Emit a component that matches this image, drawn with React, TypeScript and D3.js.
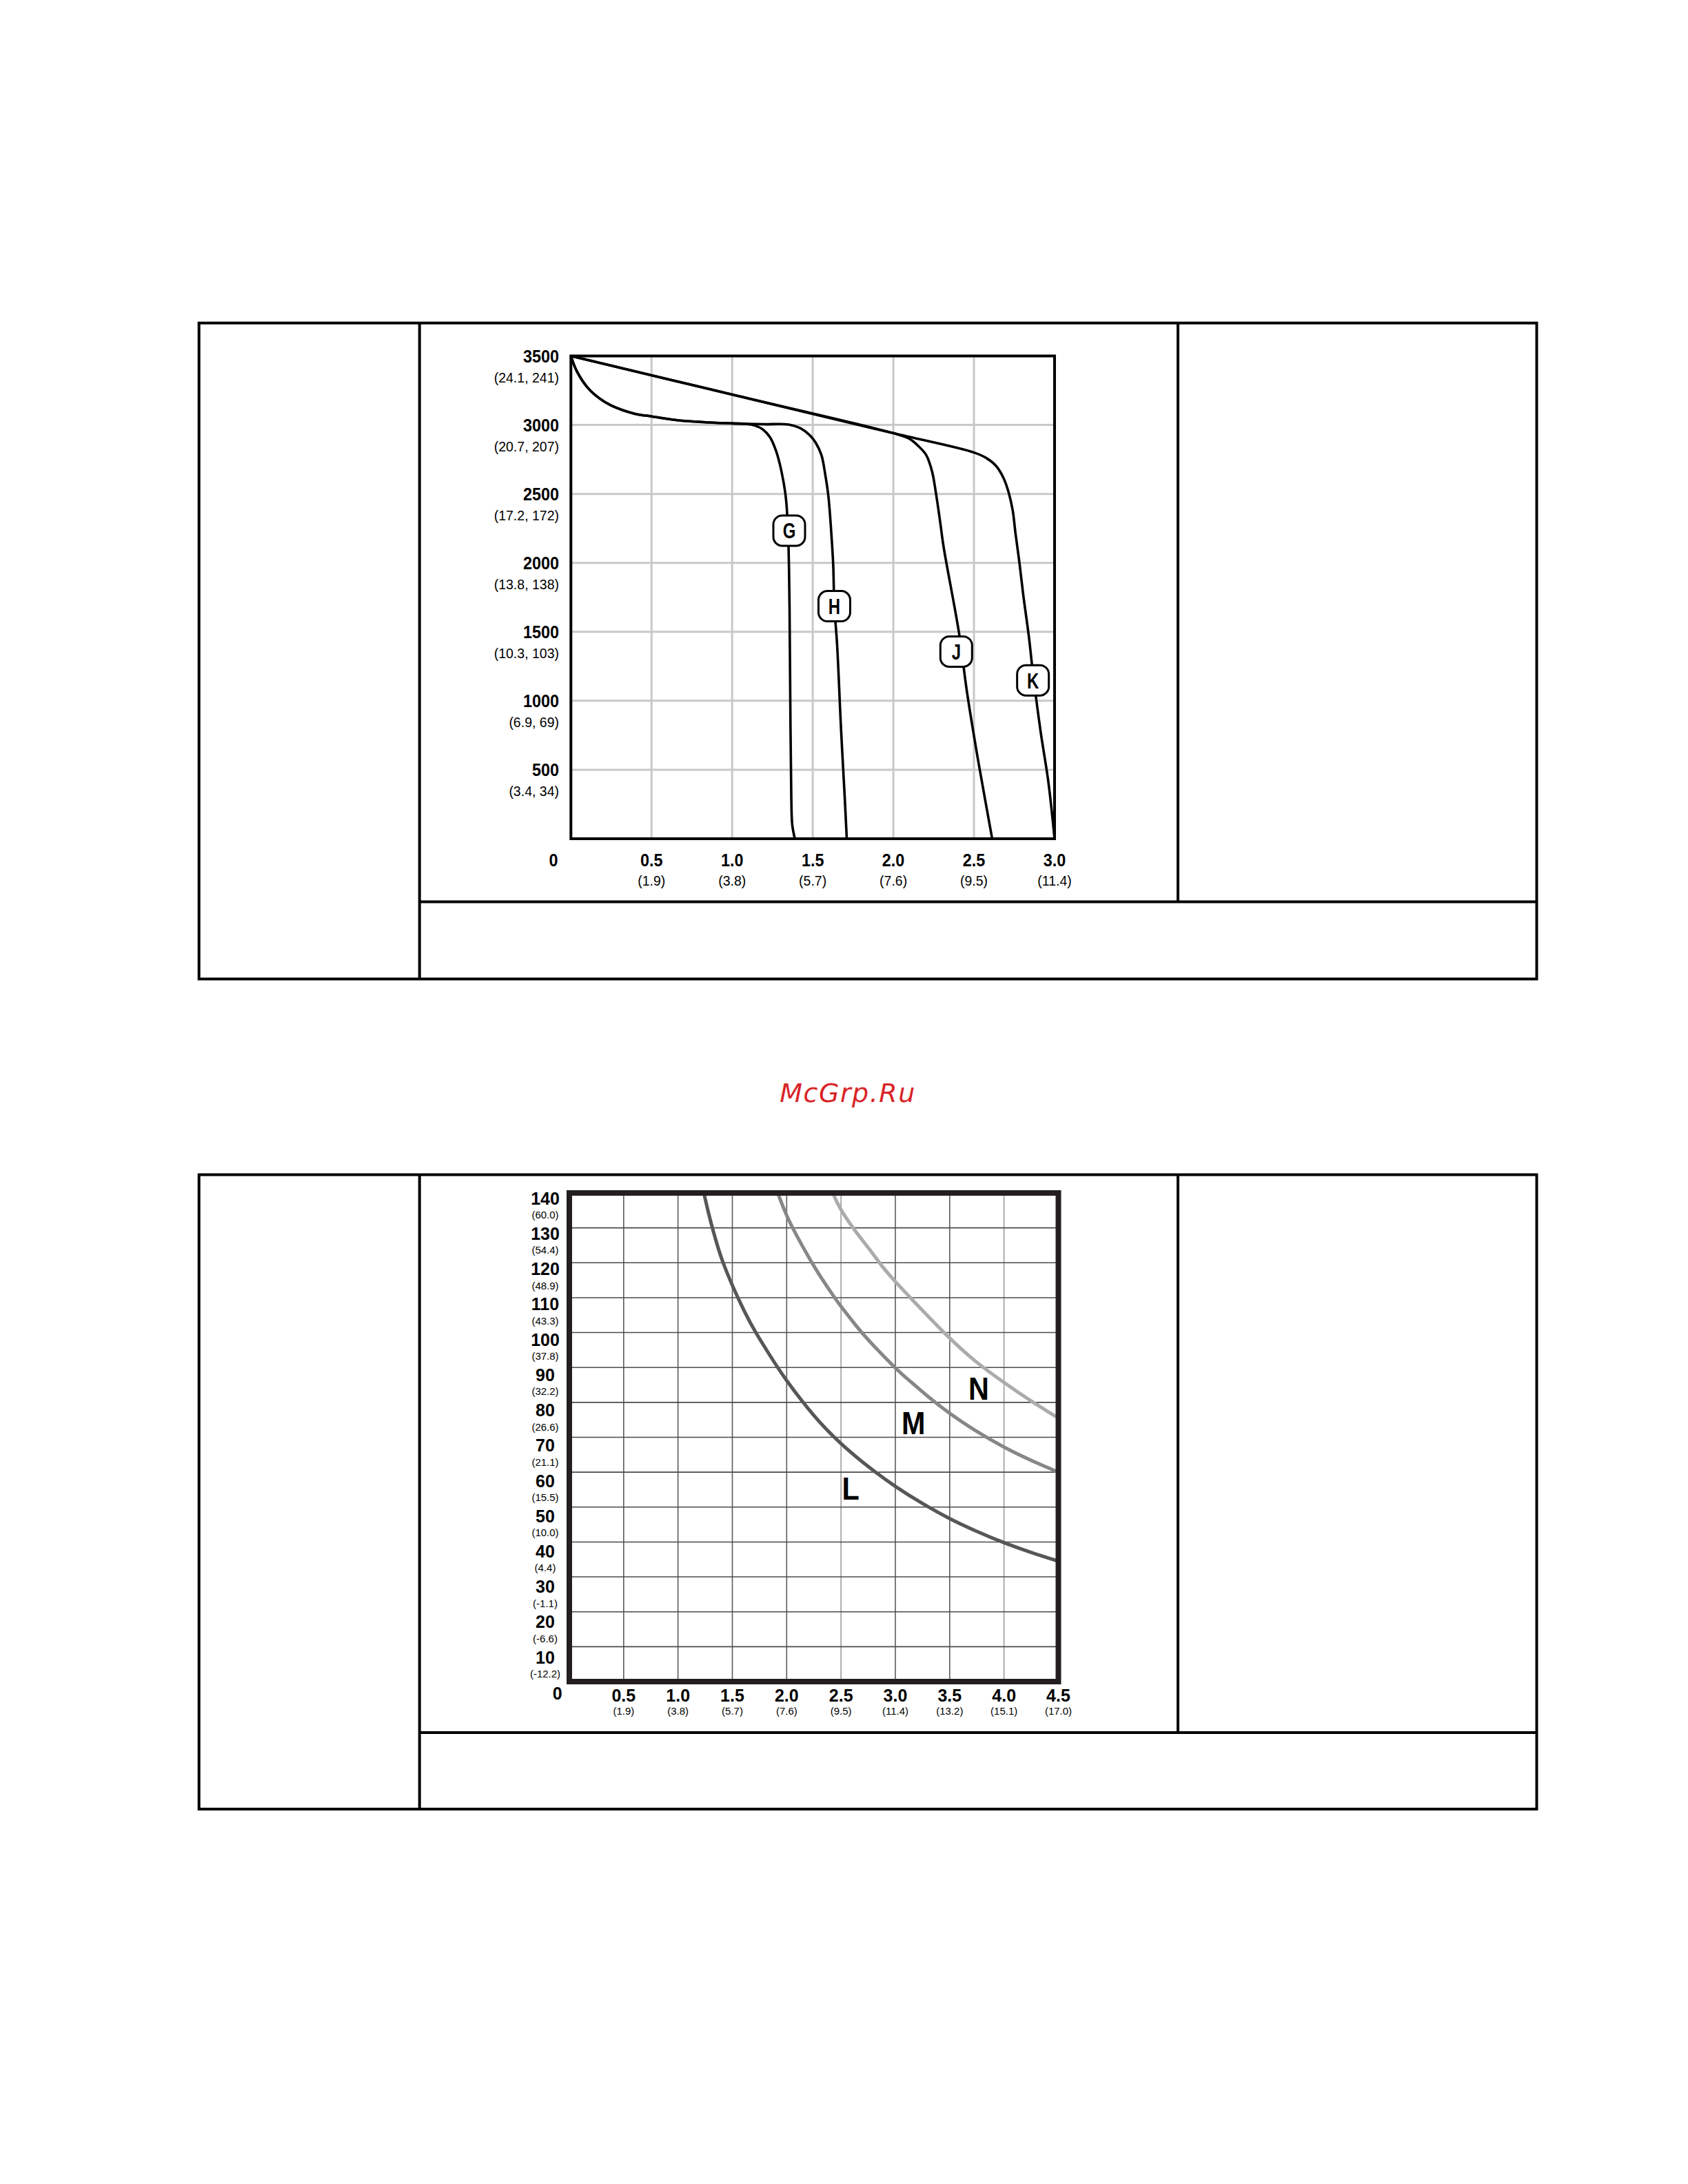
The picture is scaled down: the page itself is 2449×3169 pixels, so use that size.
import React from "react";
import * as d3 from "d3";

// ---------- Chart 1 data (pressure vs flow) ----------
const pressureTicks = [3500, 3000, 2500, 2000, 1500, 1000, 500];
const pressureSub = ["(24.1, 241)", "(20.7, 207)", "(17.2, 172)", "(13.8, 138)", "(10.3, 103)", "(6.9, 69)", "(3.4, 34)"];
const flowTicks1 = [0.5, 1.0, 1.5, 2.0, 2.5, 3.0];
const flowSub1 = ["(1.9)", "(3.8)", "(5.7)", "(7.6)", "(9.5)", "(11.4)"];

const lowTrunk: [number, number][] = [
  [0, 3500], [0.036, 3391], [0.107, 3266], [0.179, 3191], [0.25, 3141], [0.393, 3082],
  [0.5, 3062], [0.679, 3032], [1.0, 3011], [1.086, 3008],
];
const upperTrunk: [number, number][] = [[0, 3500], [1.0, 3220], [2.0, 2940]];
const branchG: [number, number][] = [
  [1.14, 2996], [1.19, 2968], [1.235, 2910], [1.27, 2820], [1.295, 2720], [1.315, 2610],
  [1.328, 2520], [1.336, 2440], [1.342, 2340], [1.347, 2234], [1.352, 2000], [1.356, 1684],
  [1.362, 808], [1.367, 300], [1.373, 100], [1.389, 0],
];
const branchH: [number, number][] = [
  [1.2, 3005], [1.35, 3003], [1.422, 2977], [1.482, 2925], [1.518, 2872], [1.554, 2781],
  [1.578, 2637], [1.597, 2484], [1.615, 2219], [1.627, 1984], [1.634, 1686], [1.651, 1409],
  [1.675, 808], [1.699, 285], [1.711, 0],
];
const branchJ: [number, number][] = [
  [2.096, 2902], [2.156, 2846], [2.204, 2781], [2.24, 2663], [2.264, 2507], [2.29, 2300],
  [2.312, 2114], [2.408, 1487], [2.456, 1069], [2.529, 546], [2.577, 233], [2.613, 0],
];
const branchK: [number, number][] = [
  [2.5, 2800], [2.577, 2760], [2.637, 2703], [2.685, 2611], [2.716, 2507], [2.741, 2376],
  [2.757, 2219], [2.781, 2010], [2.805, 1775], [2.841, 1461], [2.866, 1200], [2.913, 781],
  [2.961, 416], [3.0, 0],
];
const pumpLabels = [
  { id: "G", x: 1.354, y: 2234 },
  { id: "H", x: 1.634, y: 1686 },
  { id: "J", x: 2.39, y: 1357 },
  { id: "K", x: 2.866, y: 1148 },
];

// ---------- Chart 2 data (temperature vs flow) ----------
const tempTicks = [140, 130, 120, 110, 100, 90, 80, 70, 60, 50, 40, 30, 20, 10];
const tempSub = ["(60.0)", "(54.4)", "(48.9)", "(43.3)", "(37.8)", "(32.2)", "(26.6)", "(21.1)", "(15.5)", "(10.0)", "(4.4)", "(-1.1)", "(-6.6)", "(-12.2)"];
const flowTicks2 = [0.5, 1.0, 1.5, 2.0, 2.5, 3.0, 3.5, 4.0, 4.5];
const flowSub2 = ["(1.9)", "(3.8)", "(5.7)", "(7.6)", "(9.5)", "(11.4)", "(13.2)", "(15.1)", "(17.0)"];

const curveL: [number, number][] = [
  [1.225, 141.8], [1.238, 140], [1.283, 134], [1.336, 127.8], [1.405, 120.9], [1.509, 112.9],
  [1.614, 105.9], [1.718, 99.9], [1.857, 92.9], [1.997, 86.4], [2.241, 76.6], [2.5, 68.2],
  [2.763, 61.3], [3.006, 55.8], [3.251, 51.0], [3.494, 46.8], [3.738, 43.2], [4.0, 39.8],
  [4.25, 37.0], [4.5, 34.5],
];
const curveM: [number, number][] = [
  [1.905, 141.5], [1.928, 139.2], [2.0, 133.6], [2.101, 127.3], [2.262, 118.5], [2.4, 111.9],
  [2.5, 107.5], [2.63, 102.3], [2.763, 97.5], [3.006, 89.7], [3.15, 85.7], [3.285, 82.1],
  [3.494, 77.0], [3.738, 71.9], [4.0, 67.2], [4.25, 63.4], [4.5, 60.0],
];
const curveN: [number, number][] = [
  [2.415, 141], [2.43, 139.6], [2.5, 135.2], [2.63, 129.2], [2.763, 123.8], [2.879, 119.0],
  [3.006, 114.4], [3.15, 109.6], [3.285, 105.2], [3.494, 98.6], [3.737, 91.8], [4.0, 85.7],
  [4.25, 80.4], [4.5, 75.5],
];
const curveLabels = [
  { id: "L", x: 2.589, y: 55.3 },
  { id: "M", x: 3.167, y: 74.2 },
  { id: "N", x: 3.767, y: 84.1 },
];

const FONT = "'Liberation Sans', Arial, Helvetica, sans-serif";

export default function App() {
  // chart 1 scales
  const x1 = d3.scaleLinear().domain([0, 3]).range([828.3, 1530]);
  const y1 = d3.scaleLinear().domain([0, 3500]).range([1217, 516.5]);
  const line1 = d3
    .line<[number, number]>()
    .x((d) => x1(d[0]))
    .y((d) => y1(d[1]))
    .curve(d3.curveCatmullRom.alpha(0.5));
  const series1 = [
    lowTrunk.concat(branchG),
    lowTrunk.concat(branchH),
    upperTrunk.concat(branchJ),
    upperTrunk.concat(branchK),
  ];

  // chart 2 scales
  const x2 = d3.scaleLinear().domain([0, 4.5]).range([826, 1535.5]);
  const y2 = d3.scaleLinear().domain([0, 140]).range([2440, 1731]);
  const line2 = d3
    .line<[number, number]>()
    .x((d) => x2(d[0]))
    .y((d) => y2(d[1]))
    .curve(d3.curveNatural);
  const series2 = [
    { pts: curveN, color: "#ababad" },
    { pts: curveM, color: "#87878a" },
    { pts: curveL, color: "#57575a" },
  ];
  const lightV = new Set([2.5, 4.0]);

  const frame = (top: number, bottom: number, hline: number) => (
    <g stroke="#000" strokeWidth={4} fill="none">
      <rect x={288.7} y={top} width={2229.5 - 288.7} height={bottom - top} />
      <line x1={608.7} y1={top} x2={608.7} y2={bottom} />
      <line x1={1709} y1={top} x2={1709} y2={hline} />
      <line x1={608.7} y1={hline} x2={2229.5} y2={hline} />
    </g>
  );

  return (
    <svg
      width={2449}
      height={3169}
      style={{ position: "absolute", left: 0, top: 0, background: "#fff" }}
      fontFamily={FONT}
    >
      <rect x={0} y={0} width={2449} height={3169} fill="#fff" />

      {/* ===== Chart 1 ===== */}
      {frame(468.7, 1420.5, 1308.5)}
      <g stroke="#c8c8c8" strokeWidth={3}>
        {flowTicks1.slice(0, -1).map((v) => (
          <line key={"gx" + v} x1={x1(v)} x2={x1(v)} y1={y1(0)} y2={y1(3500)} />
        ))}
        {pressureTicks.slice(1).map((v) => (
          <line key={"gy" + v} x1={x1(0)} x2={x1(3)} y1={y1(v)} y2={y1(v)} />
        ))}
      </g>
      <g fill="none" stroke="#000" strokeWidth={3.6} strokeLinejoin="round">
        {series1.map((s, i) => (
          <path key={i} d={line1(s) || ""} />
        ))}
      </g>
      <rect x={x1(0)} y={y1(3500)} width={x1(3) - x1(0)} height={y1(0) - y1(3500)} fill="none" stroke="#000" strokeWidth={4} />
      {pumpLabels.map((p) => (
        <g key={p.id} transform={`translate(${x1(p.x)},${y1(p.y)})`}>
          <rect x={-23} y={-22} width={46} height={44} rx={13} ry={13} fill="#fff" stroke="#000" strokeWidth={3} />
          <text transform="scale(0.75,1)" textAnchor="middle" dy={11.5} fontSize={32} fontWeight="bold" fill="#000">
            {p.id}
          </text>
        </g>
      ))}
      {pressureTicks.map((v, i) => (
        <g key={"yl" + v}>
          <text transform={`translate(811,${y1(v) + 9}) scale(0.9,1)`} textAnchor="end" fontSize={26} fontWeight="bold">
            {String(v)}
          </text>
          <text transform={`translate(811,${y1(v) + 38})`} textAnchor="end" fontSize={19.5}>
            {pressureSub[i]}
          </text>
        </g>
      ))}
      <text transform={`translate(803,1257) scale(0.9,1)`} textAnchor="middle" fontSize={26} fontWeight="bold">
        0
      </text>
      {flowTicks1.map((v, i) => (
        <g key={"xl" + v}>
          <text transform={`translate(${x1(v)},1257) scale(0.9,1)`} textAnchor="middle" fontSize={26} fontWeight="bold">
            {v.toFixed(1)}
          </text>
          <text transform={`translate(${x1(v)},1285)`} textAnchor="middle" fontSize={19.5}>
            {flowSub1[i]}
          </text>
        </g>
      ))}

      {/* ===== Watermark ===== */}
      <text x={1230} y={1599} textAnchor="middle" fontFamily="'DejaVu Sans', sans-serif" fontStyle="italic" fontSize={38} letterSpacing={1.5} fill="#d82428">
        McGrp.Ru
      </text>

      {/* ===== Chart 2 ===== */}
      {frame(1704.5, 2625, 2514)}
      <defs>
        <clipPath id="plot2">
          <rect x={x2(0)} y={y2(140)} width={x2(4.5) - x2(0)} height={y2(0) - y2(140)} />
        </clipPath>
      </defs>
      <g strokeWidth={1.6}>
        {flowTicks2.slice(0, -1).map((v) => (
          <line key={"g2x" + v} x1={x2(v)} x2={x2(v)} y1={y2(0)} y2={y2(140)} stroke={lightV.has(v) ? "#9c9c9c" : "#5a5a5a"} />
        ))}
        {tempTicks.slice(1).map((v) => (
          <line key={"g2y" + v} x1={x2(0)} x2={x2(4.5)} y1={y2(v)} y2={y2(v)} stroke="#4a4a4a" />
        ))}
      </g>
      <g clipPath="url(#plot2)" fill="none" strokeWidth={5}>
        {series2.map((s, i) => (
          <path key={i} d={line2(s.pts) || ""} stroke={s.color} />
        ))}
      </g>
      <rect x={x2(0)} y={y2(140)} width={x2(4.5) - x2(0)} height={y2(0) - y2(140)} fill="none" stroke="#231f20" strokeWidth={8} />
      {curveLabels.map((c) => (
        <text key={c.id} transform={`translate(${x2(c.x)},${y2(c.y) + 16.5}) scale(0.9,1)`} textAnchor="middle" fontSize={46} fontWeight="bold" fill="#000">
          {c.id}
        </text>
      ))}
      {tempTicks.map((v, i) => {
        const cy = y2(v) + 7.8 + (140 - v) * 0.058;
        return (
          <g key={"tl" + v}>
            <text x={791} y={cy + 9} textAnchor="middle" fontSize={25} fontWeight="bold">
              {String(v)}
            </text>
            <text x={791} y={cy + 24.4 + 5} textAnchor="middle" fontSize={15}>
              {tempSub[i]}
            </text>
          </g>
        );
      })}
      <text x={808.6} y={2466} textAnchor="middle" fontSize={25} fontWeight="bold">
        0
      </text>
      {flowTicks2.map((v, i) => (
        <g key={"fl" + v}>
          <text x={x2(v)} y={2469} textAnchor="middle" fontSize={25} fontWeight="bold">
            {v.toFixed(1)}
          </text>
          <text x={x2(v)} y={2488} textAnchor="middle" fontSize={15}>
            {flowSub2[i]}
          </text>
        </g>
      ))}
    </svg>
  );
}
